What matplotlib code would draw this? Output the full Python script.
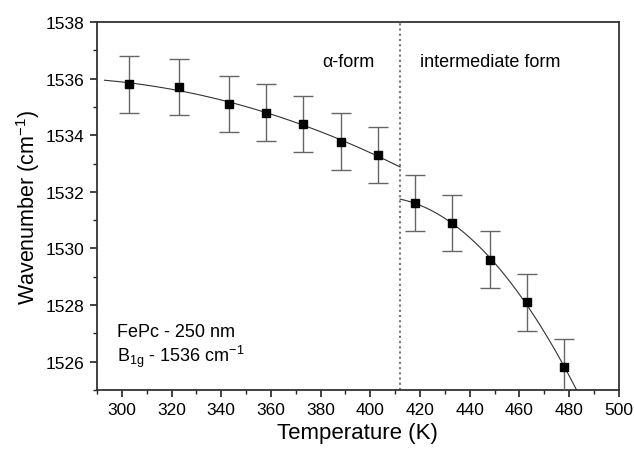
import numpy as np
import matplotlib
matplotlib.use("Agg")
import matplotlib.pyplot as plt
from matplotlib.ticker import MultipleLocator

temp_alpha = [303, 323, 343, 358, 373, 388, 403]
wn_alpha = [1535.8, 1535.7, 1535.1, 1534.8, 1534.4, 1533.77, 1533.3]
temp_inter = [418, 433, 448, 463, 478]
wn_inter = [1531.6, 1530.9, 1529.6, 1528.1, 1525.8]
err = 1.0
transition_T = 412
fit_alpha_range = [293, 412]
fit_inter_range = [412, 490]

plt.rcParams['font.family'] = ['Liberation Sans', 'DejaVu Sans']

fig = plt.figure(figsize=(6.34, 4.52), dpi=100)
ax = fig.add_axes([0.153, 0.135, 0.823, 0.814])

# fits
for xs, ys, rng in [(temp_alpha, wn_alpha, fit_alpha_range),
                    (temp_inter, wn_inter, fit_inter_range)]:
    c = np.polyfit(xs, ys, 2)
    xx = np.linspace(rng[0], rng[1], 200)
    ax.plot(xx, np.polyval(c, xx), color='#333333', lw=0.8, zorder=2)

allT = temp_alpha + temp_inter
allW = wn_alpha + wn_inter
ax.errorbar(allT, allW, yerr=err, fmt='none', ecolor='#666666', elinewidth=1.0,
            capsize=7.5, capthick=1.0, zorder=3)
ax.plot(allT, allW, 's', color='black', ms=5.5, zorder=4)

ax.axvline(transition_T, color='#777777', ls=(0, (1, 1.5)), lw=1.5, zorder=1)

ax.set_xlim(290, 500)
ax.set_ylim(1525, 1538)
ax.xaxis.set_major_locator(MultipleLocator(20))
ax.xaxis.set_minor_locator(MultipleLocator(10))
ax.yaxis.set_major_locator(MultipleLocator(2))
ax.yaxis.set_minor_locator(MultipleLocator(1))
ax.tick_params(which='major', length=5, width=1.2, labelsize=12.5, direction='out', colors='#222222', pad=4)
ax.tick_params(which='minor', length=3, width=1.0, direction='out', colors='#222222')
ax.tick_params(labelcolor='black')
for s in ax.spines.values():
    s.set_linewidth(1.3)
    s.set_color('#333333')

ax.set_xlabel('Temperature (K)', fontsize=16, labelpad=3)
ax.set_ylabel('Wavenumber (cm$^{\\mathregular{-1}}$)', fontsize=15.5, labelpad=3)

ax.text(391, 1536.6, 'α-form', fontsize=13, ha='center', va='center')
ax.text(420, 1536.6, 'intermediate form', fontsize=13, ha='left', va='center')
ax.text(298, 1527.05, 'FePc - 250 nm', fontsize=13, ha='left', va='center')
ax.text(298, 1526.2, 'B$_{\\mathregular{1g}}$ - 1536 cm$^{\\mathregular{-1}}$', fontsize=13, ha='left', va='center')

fig.savefig('out.png', dpi=100)
